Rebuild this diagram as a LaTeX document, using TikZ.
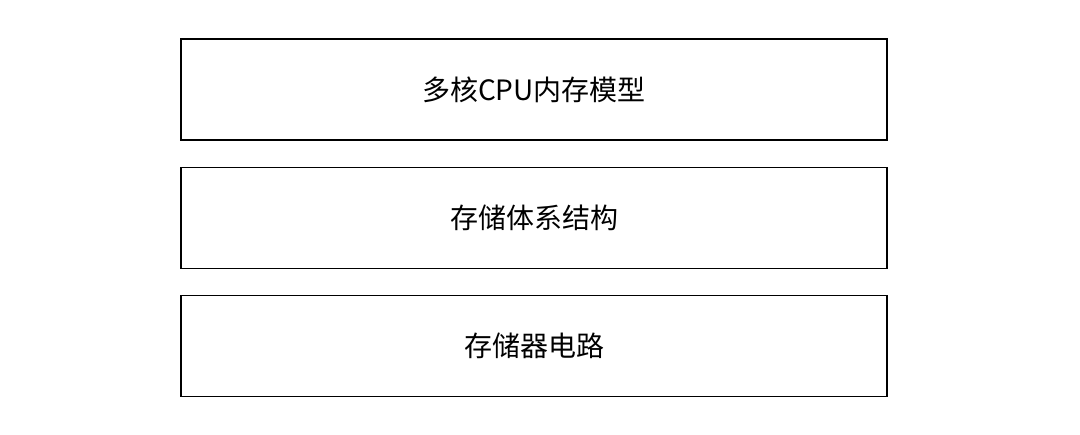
\documentclass[tikz,border=0pt]{standalone}
\usepackage{fontspec}
\newfontfamily\cjk{Noto Sans CJK SC}
\begin{document}
\begin{tikzpicture}[x=1pt,y=-1pt,
  layerbox/.style={draw=black, line width=1.1pt, minimum width=706pt, minimum height=101pt, inner sep=0pt, font=\cjk\fontsize{28}{32}\selectfont}]
\useasboundingbox (0,0) rectangle (1080,435);
\node[layerbox] (cpu) at (534,89.5) {多核CPU内存模型};
\node[layerbox] (arch) at (534,218) {存储体系结构};
\node[layerbox] (circ) at (534,346) {存储器电路};
\end{tikzpicture}
\end{document}
